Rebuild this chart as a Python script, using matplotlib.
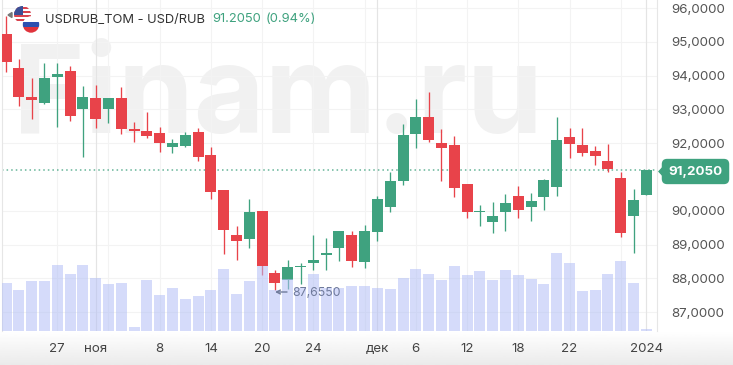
import matplotlib
matplotlib.use('Agg')
import matplotlib.pyplot as plt
import numpy as np
from matplotlib.patches import Circle, Rectangle, Polygon

plt.rcParams['font.family'] = ['Inter', 'DejaVu Sans']

opens = [95.22, 94.22, 93.37, 93.19, 93.96, 94.14, 93.00, 93.33, 93.00, 93.33,
         92.42, 92.37, 92.29, 91.88, 91.93, 92.32, 91.65, 90.62, 89.28, 89.17,
         90.00, 88.16, 87.96, 88.33, 88.44, 88.70, 88.89, 89.28, 88.48, 89.36,
         90.11, 90.88, 92.26, 92.77, 92.01, 91.96, 90.80, 89.96, 89.66, 89.96,
         90.44, 90.11, 90.41, 90.70, 92.17, 91.96, 91.77, 91.47, 90.96, 89.85, 90.48]
closes = [94.41, 93.37, 93.29, 93.92, 94.06, 92.81, 93.37, 92.71, 93.33, 92.41,
          92.36, 92.22, 91.99, 91.99, 92.25, 91.59, 90.56, 89.44, 89.10, 89.96,
          88.37, 87.85, 88.32, 88.37, 88.53, 88.76, 89.39, 88.52, 89.39, 90.36,
          90.87, 92.25, 92.77, 92.09, 91.85, 90.67, 89.97, 89.99, 89.85, 90.24,
          90.03, 90.29, 90.91, 92.10, 91.98, 91.71, 91.63, 91.24, 89.33, 90.32, 91.205]
highs = [95.76, 94.48, 93.92, 94.36, 94.36, 94.29, 93.69, 93.73, 93.34, 93.65,
         92.64, 92.91, 92.47, 92.13, 92.33, 92.44, 91.88, 90.62, 89.55, 90.36,
         90.00, 88.25, 88.53, 88.46, 89.28, 89.20, 89.39, 89.40, 89.58, 90.44,
         91.16, 92.57, 93.30, 93.52, 92.41, 92.21, 90.80, 90.17, 90.25, 90.50,
         90.73, 90.51, 90.94, 92.78, 92.44, 92.44, 91.93, 91.97, 91.14, 90.65, 91.205]
lows = [94.11, 93.10, 92.71, 93.16, 92.47, 92.67, 91.58, 92.44, 92.61, 92.26,
        92.02, 92.15, 91.73, 91.70, 91.88, 91.47, 90.34, 88.73, 88.53, 88.91,
        88.10, 87.655, 87.68, 87.83, 88.25, 88.25, 88.52, 88.32, 88.30, 89.09,
        89.96, 90.76, 91.85, 92.04, 90.89, 90.40, 89.78, 89.55, 89.34, 89.40,
        89.78, 89.70, 90.02, 90.44, 91.55, 91.63, 91.34, 91.16, 89.22, 88.74, 90.48]
volumes = [48, 41, 50, 50, 66, 57, 66, 53, 47, 48,
           4, 51, 36, 43, 32, 35, 41, 62, 37, 50,
           65, 41, 52, 43, 57, 43, 43, 45, 45, 43,
           42, 53, 62, 57, 51, 65, 56, 60, 51, 61,
           56, 52, 47, 78, 68, 40, 41, 57, 70, 48, 2]

price_ticks = [87, 88, 89, 90, 92, 93, 94, 95, 96]
price_labels = ['87,0000', '88,0000', '89,0000', '90,0000', '92,0000', '93,0000', '94,0000', '95,0000', '96,0000']
date_ticks = [4, 7, 8, 12, 16, 20, 24, 28, 29, 32, 36, 40, 44, 48, 50]
date_labels = ['27', 'ноя', '', '8', '14', '20', '24', '', 'дек', '6', '12', '18', '22', '', '2024']
month_ticks = [7, 29, 50]
last_price = 91.2050
min_price = 87.6550

green = '#3fa27f'
red = '#e8434a'

fig = plt.figure(figsize=(7.33, 3.65), dpi=100)

# bottom strip fades to grey
bg = fig.add_axes([0, 0, 1, 34 / 365], zorder=0)
bg.imshow(np.linspace(1, 0.92, 50).reshape(-1, 1), cmap='gray', vmin=0, vmax=1, aspect='auto')
bg.axis('off')

ax = fig.add_axes([1.5 / 733, 34 / 365, 655.5 / 733, 331 / 365], zorder=1)
ax.patch.set_alpha(0)
ax.set_xlim(-0.351, 50.83)
ax.set_ylim(86.44, 96.237)
for s in ['top', 'bottom']:
    ax.spines[s].set_visible(False)
for s in ['left', 'right']:
    ax.spines[s].set_color('#e6e6e6')
    ax.spines[s].set_linewidth(0.8)

ax.text(0.018, 92.30, 'Finam.ru', transform=ax.get_yaxis_transform(), fontsize=88, fontweight='bold',
        color='#f1f1f1', va='baseline', ha='left', zorder=0.5)

ax.axhline(last_price, color=green, linewidth=1.1, linestyle=(0, (1, 2)), alpha=0.8, zorder=1)

idx = np.arange(len(opens))
o = np.array(opens)
c = np.array(closes)
colors = [green if c[i] >= o[i] else red for i in idx]
ax.vlines(idx, lows, highs, colors=colors, linewidth=0.95, zorder=2)
ax.bar(idx, np.abs(c - o), bottom=np.minimum(o, c), width=0.86, color=colors, zorder=3)

ax2 = ax.twinx()
ax2.set_ylim(0, 331)
ax2.bar(idx, volumes, width=0.86, color='#b3bff6', alpha=0.55, linewidth=0)
ax2.axis('off')

# twinx moves the ticks to the left, so set them up after it
ax.yaxis.tick_right()
ax.set_yticks(price_ticks)
ax.set_yticklabels(price_labels, fontsize=9.6, color='#555555')
ax.set_xticks(date_ticks)
ax.set_xticklabels(date_labels, fontsize=9.6, color='#444444')
ax.tick_params(length=0)
ax.tick_params(axis='y', pad=10)
ax.tick_params(axis='x', pad=9)
ax.grid(color='#f3f3f3', linewidth=0.8)
ax.set_axisbelow(True)
for m in month_ticks:
    ax.axvline(m, color='#e4e4e4', linewidth=0.8, zorder=0.6)

# overlay in pixels for header, flags, labels
ov = fig.add_axes([0, 0, 1, 1], zorder=3)
ov.set_xlim(0, 733)
ov.set_ylim(365, 0)
ov.axis('off')

ov.text(45, 19.5, 'USDRUB_TOM - USD/RUB', fontsize=9.3, color='#333333', va='center', ha='left')
ov.text(212, 19.5, '91.2050', fontsize=9.3, color=green, va='center', ha='left')
ov.text(266, 19.5, '(0.94%)', fontsize=9.3, color=green, va='center', ha='left')

ov.add_patch(Polygon([[8, 15], [12, 12.5], [12, 17.5]], color='#777777'))
us = Circle((22.5, 14.5), 8.5, fc='white', ec='none')
ov.add_patch(us)
for i in range(4):
    st = Rectangle((14, 7 + i * 4), 17, 2, fc='#d8434e', ec='none')
    ov.add_patch(st)
    st.set_clip_path(us)
canton = Rectangle((14, 6), 8.5, 8.5, fc='#3b4f96', ec='none')
ov.add_patch(canton)
canton.set_clip_path(us)
ru = Circle((31, 24.5), 8.2, fc='white', ec='none')
ov.add_patch(ru)
for y, h, col in [(21.5, 5, '#2c50b0'), (26.5, 8, '#e0333c')]:
    st = Rectangle((22, y), 18, h, fc=col, ec='none')
    ov.add_patch(st)
    st.set_clip_path(ru)

ov.text(695.5, 171.5, f'{last_price:.4f}'.replace('.', ','), fontsize=9.6, fontweight='bold', color='white',
        va='center', ha='center', bbox=dict(boxstyle='round,pad=0.5,rounding_size=0.4', fc=green, ec='none'))
ov.add_patch(Polygon([[659, 171.5], [666, 164], [666, 179]], color=green))

ov.annotate('', xy=(275, 292), xytext=(287, 292),
            arrowprops=dict(arrowstyle='->', color='#6f7a9b', lw=1, mutation_scale=7, shrinkA=0, shrinkB=0))
ov.text(292, 293, f'{min_price:.4f}'.replace('.', ','), fontsize=8.8, color='#6f7a9b', va='center', ha='left')

fig.savefig('out.png', dpi=100)
